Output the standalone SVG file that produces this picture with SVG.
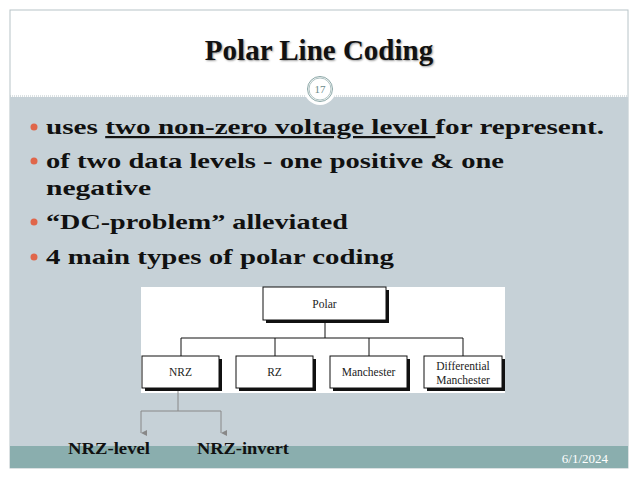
<svg xmlns="http://www.w3.org/2000/svg" width="638" height="478" viewBox="0 0 638 478">
<style>
.b{font-family:"Liberation Serif",serif;font-weight:bold;font-size:22px;fill:#111}
.n{fill:#fff;stroke:#111;stroke-width:1}
.s{fill:#111}
.t{font-family:"Liberation Serif",serif;font-size:11.5px;fill:#222;text-anchor:middle}
.dot{fill:#e0664a}
</style>
<defs><marker id="a" markerWidth="8" markerHeight="8" refX="4" refY="7" orient="auto" markerUnits="userSpaceOnUse"><path d="M1,1 L7,1 L4,7 Z" fill="#888"/></marker></defs>
<rect width="638" height="478" fill="#fff"/>
<rect x="10" y="10" width="618" height="458" fill="#fff" stroke="#b8c4c8"/>
<line x1="10" y1="96" x2="628" y2="96" stroke="#b8c4c8" stroke-dasharray="1,1"/>
<rect x="10" y="97" width="618" height="349" fill="#c6d1d7"/>
<rect x="10" y="446" width="618" height="22" fill="#8aaeae"/>
<text x="319" y="60" text-anchor="middle" font-family="Liberation Serif,serif" font-weight="bold" font-size="29" fill="#111" style="text-shadow:1px 1px 2px #999">Polar Line Coding</text>
<circle cx="320" cy="89" r="16" fill="#fff"/>
<circle cx="320" cy="89" r="12.5" fill="none" stroke="#8aa6a6"/>
<circle cx="320" cy="89" r="11" fill="none" stroke="#8aa6a6" stroke-width="0.7"/>
<text x="320" y="93" text-anchor="middle" font-family="Liberation Serif,serif" font-size="11" fill="#6a8a8a">17</text>
<circle class="dot" cx="34" cy="127" r="3.5"/>
<text class="b" x="46" y="134" textLength="558" lengthAdjust="spacingAndGlyphs">uses <tspan text-decoration="underline">two non-zero voltage level </tspan>for represent.</text>
<circle class="dot" cx="34" cy="161" r="3.5"/>
<text class="b" x="46" y="168" textLength="458" lengthAdjust="spacingAndGlyphs">of two data levels - one positive &amp; one</text>
<text class="b" x="46" y="195" textLength="105" lengthAdjust="spacingAndGlyphs">negative</text>
<circle class="dot" cx="34" cy="222" r="3.5"/>
<text class="b" x="46" y="229" textLength="302" lengthAdjust="spacingAndGlyphs">“DC-problem” alleviated</text>
<circle class="dot" cx="34" cy="257" r="3.5"/>
<text class="b" x="46" y="264" textLength="348" lengthAdjust="spacingAndGlyphs">4 main types of polar coding</text>
<rect x="141" y="287" width="364" height="106" fill="#fff"/>
<g id="connectors" fill="none">
<path d="M325,321 V338 M181,338 H463 M181,338 V356 M275,338 V356 M369,338 V356 M463,338 V356" stroke="#111"/>
<path d="M178,390 V411 M141,411 H221" stroke="#888"/>
<path d="M141,411 V433" stroke="#888" marker-end="url(#a)"/>
<path d="M221,411 V433" stroke="#888" marker-end="url(#a)"/>
</g>
<g id="polar"><rect class="s" x="266" y="290" width="123" height="33"/><rect class="n" x="263" y="287" width="123" height="33"/><text class="t" x="324.5" y="308">Polar</text></g>
<g id="nrz"><rect class="s" x="145" y="359" width="77" height="32"/><rect class="n" x="142" y="356" width="77" height="32"/><text class="t" x="180.5" y="376">NRZ</text></g>
<g id="rz"><rect class="s" x="239" y="359" width="77" height="32"/><rect class="n" x="236" y="356" width="77" height="32"/><text class="t" x="274.5" y="376">RZ</text></g>
<g id="manchester"><rect class="s" x="333" y="359" width="77" height="32"/><rect class="n" x="330" y="356" width="77" height="32"/><text class="t" x="368.5" y="376">Manchester</text></g>
<g id="diff"><rect class="s" x="427" y="359" width="78" height="32"/><rect class="n" x="424" y="356" width="78" height="32"/><text class="t" x="463" y="370">Differential</text><text class="t" x="463" y="384">Manchester</text></g>
<text x="68" y="454" font-family="Liberation Serif,serif" font-weight="bold" font-size="17" fill="#111" textLength="82" lengthAdjust="spacingAndGlyphs">NRZ-level</text>
<text x="197" y="454" font-family="Liberation Serif,serif" font-weight="bold" font-size="17" fill="#111" textLength="92" lengthAdjust="spacingAndGlyphs">NRZ-invert</text>
<text x="608" y="463" text-anchor="end" font-family="Liberation Serif,serif" font-size="13" fill="#fff">6/1/2024</text>
</svg>
